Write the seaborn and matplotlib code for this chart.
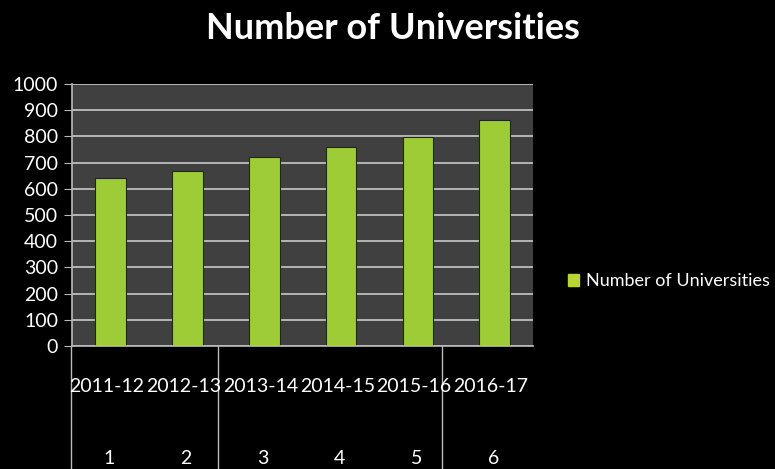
import matplotlib
matplotlib.use("Agg")
import matplotlib.pyplot as plt
import seaborn as sns
import pandas as pd
from matplotlib.lines import Line2D

years = ["2011-12", "2012-13", "2013-14", "2014-15", "2015-16", "2016-17"]
index_labels = ["1", "2", "3", "4", "5", "6"]
universities = [642, 667, 723, 760, 799, 864]
series_name = "Number of Universities"
y_ticks = [0, 100, 200, 300, 400, 500, 600, 700, 800, 900, 1000]

sns.set_style("dark")
plt.rcParams["font.family"] = ["Lato", "DejaVu Sans"]

df = pd.DataFrame({"year": years, "value": universities})

fig = plt.figure(figsize=(7.75, 4.69), dpi=100, facecolor="black")
ax = fig.add_axes([0.093, 0.262, 0.595, 0.559])
ax.set_facecolor("#404040")

sns.barplot(data=df, x="year", y="value", color="#9dcc36", saturation=1,
            width=0.4, ax=ax, edgecolor="#1e2a08", linewidth=0.8)
if ax.get_legend() is not None:
    ax.get_legend().remove()

ax.set_ylim(0, 1000)
ax.set_xlim(-0.5, len(years) - 0.5)
ax.set_yticks(y_ticks)
ax.set_yticklabels([str(t) for t in y_ticks], color="white", fontsize=14)
ax.tick_params(axis="y", length=6, color="#bbbbbb", pad=4, direction="out", left=True)
ax.tick_params(axis="x", length=0, labelbottom=False)
ax.grid(axis="y", color="#c8c8c8", linewidth=1.2)
ax.grid(axis="x", visible=False)
ax.set_axisbelow(True)
for s in ["top", "right"]:
    ax.spines[s].set_visible(False)
ax.spines["left"].set_color("#bbbbbb")
ax.spines["bottom"].set_color("#bbbbbb")
ax.spines["left"].set_linewidth(1.2)
ax.spines["bottom"].set_linewidth(1.2)
ax.set_xlabel("")
ax.set_ylabel("")

# category labels (two-level axis)
trans = ax.get_xaxis_transform()
for i, (yr, ix) in enumerate(zip(years, index_labels)):
    ax.text(i - 0.05, -0.155, yr, transform=trans, ha="center", va="center",
            color="white", fontsize=14, clip_on=False)
    ax.text(i - 0.02, -0.43, ix, transform=trans, ha="center", va="center",
            color="white", fontsize=14, clip_on=False)

# separators of the multi-level axis
for xs in [-0.52, 1.40, 4.31]:
    ax.add_line(Line2D([xs, xs], [0, -0.48], transform=trans, color="#bbbbbb",
                       linewidth=1.0, clip_on=False))

fig.text(0.507, 0.94, series_name, ha="center", va="center", color="white",
         fontsize=26, fontweight="bold")

leg = fig.legend(handles=[plt.Rectangle((0, 0), 1, 1, color="#b8d435")],
                 labels=[series_name], loc="center left",
                 bbox_to_anchor=(0.712, 0.40), frameon=False, fontsize=13,
                 handlelength=0.6, handleheight=0.6, handletextpad=0.4)
for t in leg.get_texts():
    t.set_color("white")

fig.savefig("out.png", dpi=100, facecolor="black")
